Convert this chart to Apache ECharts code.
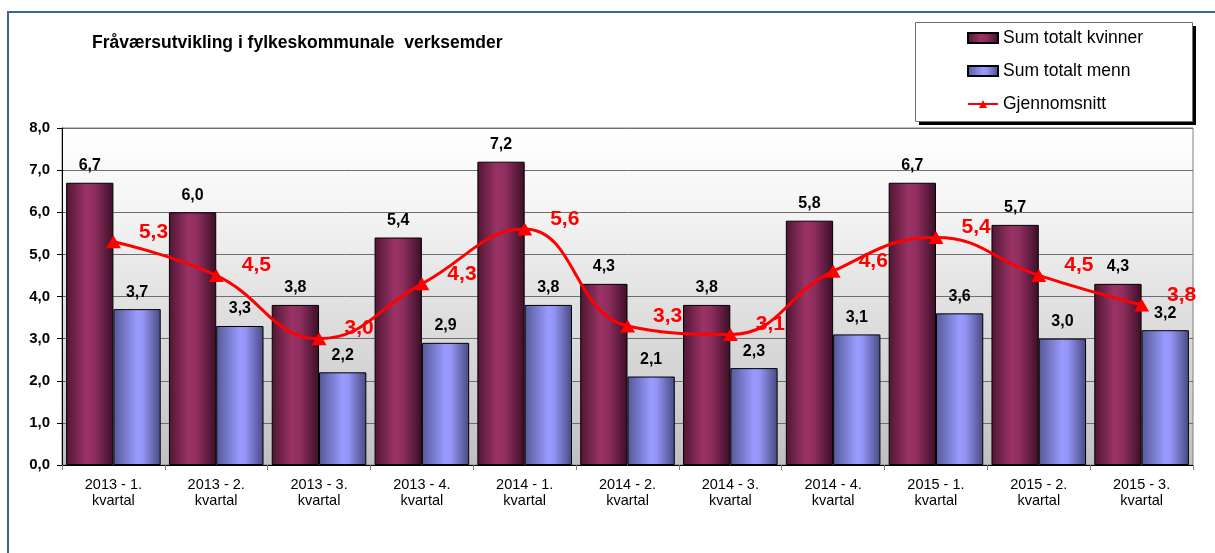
<!DOCTYPE html>
<html>
<head>
<meta charset="utf-8">
<script src="https://cdn.jsdelivr.net/npm/echarts@6/dist/echarts.min.js"></script>
<style>
html,body{margin:0;padding:0;background:#fff;}
#chart{width:1215px;height:553px;}
</style>
</head>
<body>
<div id="chart"></div>
<script>
var categories = ['2013 - 1.\nkvartal','2013 - 2.\nkvartal','2013 - 3.\nkvartal','2013 - 4.\nkvartal','2014 - 1.\nkvartal','2014 - 2.\nkvartal','2014 - 3.\nkvartal','2014 - 4.\nkvartal','2015 - 1.\nkvartal','2015 - 2.\nkvartal','2015 - 3.\nkvartal'];
var kvinner = [6.7, 6.0, 3.8, 5.4, 7.2, 4.3, 3.8, 5.8, 6.7, 5.7, 4.3];
var menn = [3.7, 3.3, 2.2, 2.9, 3.8, 2.1, 2.3, 3.1, 3.6, 3.0, 3.2];
var snitt = [5.3, 4.5, 3.0, 4.3, 5.6, 3.3, 3.1, 4.6, 5.4, 4.5, 3.8];
var seriesNames = ['Sum totalt kvinner', 'Sum totalt menn', 'Gjennomsnitt'];
var titleText = 'Fråværsutvikling i fylkeskommunale  verksemder';

function fmt(v){ return v.toFixed(1).replace('.', ','); }
var FONT = 'Arial, "Liberation Sans", sans-serif';

var chart = echarts.init(document.getElementById('chart'), null, {renderer:'canvas'});
chart.setOption({
  animation: false,
  backgroundColor: '#ffffff',
  textStyle: {fontFamily: FONT},
  title: {
    text: titleText, left: 87, top: 29,
    textStyle: {fontFamily: FONT, fontSize: 17.5, fontWeight: 'bold', color: '#000'}
  },
  graphic: [
    {type:'rect', z: 0, shape:{x:8, y:12, width:1400, height:800}, style:{fill:'none', stroke:'#3d639b', lineWidth:2}},
    {type:'rect', z: 1, shape:{x:919, y:26, width:277, height:99}, style:{fill:'#000'}},
    {type:'rect', z: 2, shape:{x:915.5, y:22.5, width:277, height:99}, style:{fill:'#fff', stroke:'#707070', lineWidth:1}}
  ],
  legend: {
    z: 10,
    orient: 'vertical', left: 962, top: 24,
    itemWidth: 30, itemHeight: 10, itemGap: 15,
    textStyle: {fontFamily: FONT, fontSize: 17.5, color: '#000'},
    data: [
      {name: seriesNames[0], icon: 'rect'},
      {name: seriesNames[1], icon: 'rect'},
      {name: seriesNames[2]}
    ]
  },
  grid: {
    left: 62, right: 22, top: 128, bottom: 88,
    show: true, borderColor: '#808080', borderWidth: 1,
    backgroundColor: {type:'linear', x:0, y:0, x2:0, y2:1, colorStops:[
      {offset:0, color:'#ffffff'},
      {offset:0.25, color:'#f4f4f4'},
      {offset:0.5, color:'#e2e2e2'},
      {offset:0.75, color:'#d2d2d2'},
      {offset:1, color:'#bfbfbf'}
    ]}
  },
  xAxis: {
    type: 'category', data: categories,
    axisLine: {show: true, lineStyle: {color: '#000', width: 1}},
    axisTick: {show: true, length: 5, lineStyle: {color: '#808080'}},
    axisLabel: {fontFamily: FONT, fontSize: 14.5, color: '#000', lineHeight: 16, margin: 12, interval: 0}
  },
  yAxis: {
    type: 'value', min: 0, max: 8, interval: 1,
    axisLine: {show: true, lineStyle: {color: '#000', width: 1}},
    axisTick: {show: true, length: 5, lineStyle: {color: '#000'}},
    axisLabel: {fontFamily: FONT, fontSize: 15, fontWeight: 'bold', color: '#000', margin: 12, formatter: function(v){return fmt(v);}},
    splitLine: {show: true, lineStyle: {color: '#6e6e6e', width: 1}}
  },
  series: [
    {
      name: seriesNames[0], type: 'bar', data: kvinner,
      barGap: '0%', barCategoryGap: '8%',
      itemStyle: {
        borderColor: '#000', borderWidth: 1,
        color: {type:'linear', x:0, y:0, x2:1, y2:0, colorStops:[
          {offset:0, color:'#4f1633'},
          {offset:0.42, color:'#9a3366'},
          {offset:0.6, color:'#8e2e5e'},
          {offset:1, color:'#3b0f27'}
        ]}
      },
      label: {show: true, position: 'top', distance: 9, color: '#000', fontFamily: FONT, fontSize: 16, fontWeight: 'bold', formatter: function(p){return fmt(p.value);}}
    },
    {
      name: seriesNames[1], type: 'bar', data: menn,
      itemStyle: {
        borderColor: '#000', borderWidth: 1,
        color: {type:'linear', x:0, y:0, x2:1, y2:0, colorStops:[
          {offset:0, color:'#545896'},
          {offset:0.5, color:'#9b9bff'},
          {offset:0.62, color:'#9494f5'},
          {offset:1, color:'#474a80'}
        ]}
      },
      label: {show: true, position: 'top', distance: 9, color: '#000', fontFamily: FONT, fontSize: 16, fontWeight: 'bold', formatter: function(p){return fmt(p.value);}}
    },
    {
      name: seriesNames[2], type: 'line', data: snitt, z: 5,
      smooth: 0.45,
      symbol: 'triangle', symbolSize: [15, 13],
      lineStyle: {color: '#ff0000', width: 3},
      itemStyle: {color: '#ff0000'},
      label: {show: true, position: 'right', distance: 18, offset: [0, -10], color: '#ff0000', fontFamily: FONT, fontSize: 21, fontWeight: 'bold', formatter: function(p){return fmt(p.value);}}
    }
  ]
});
</script>
</body>
</html>
